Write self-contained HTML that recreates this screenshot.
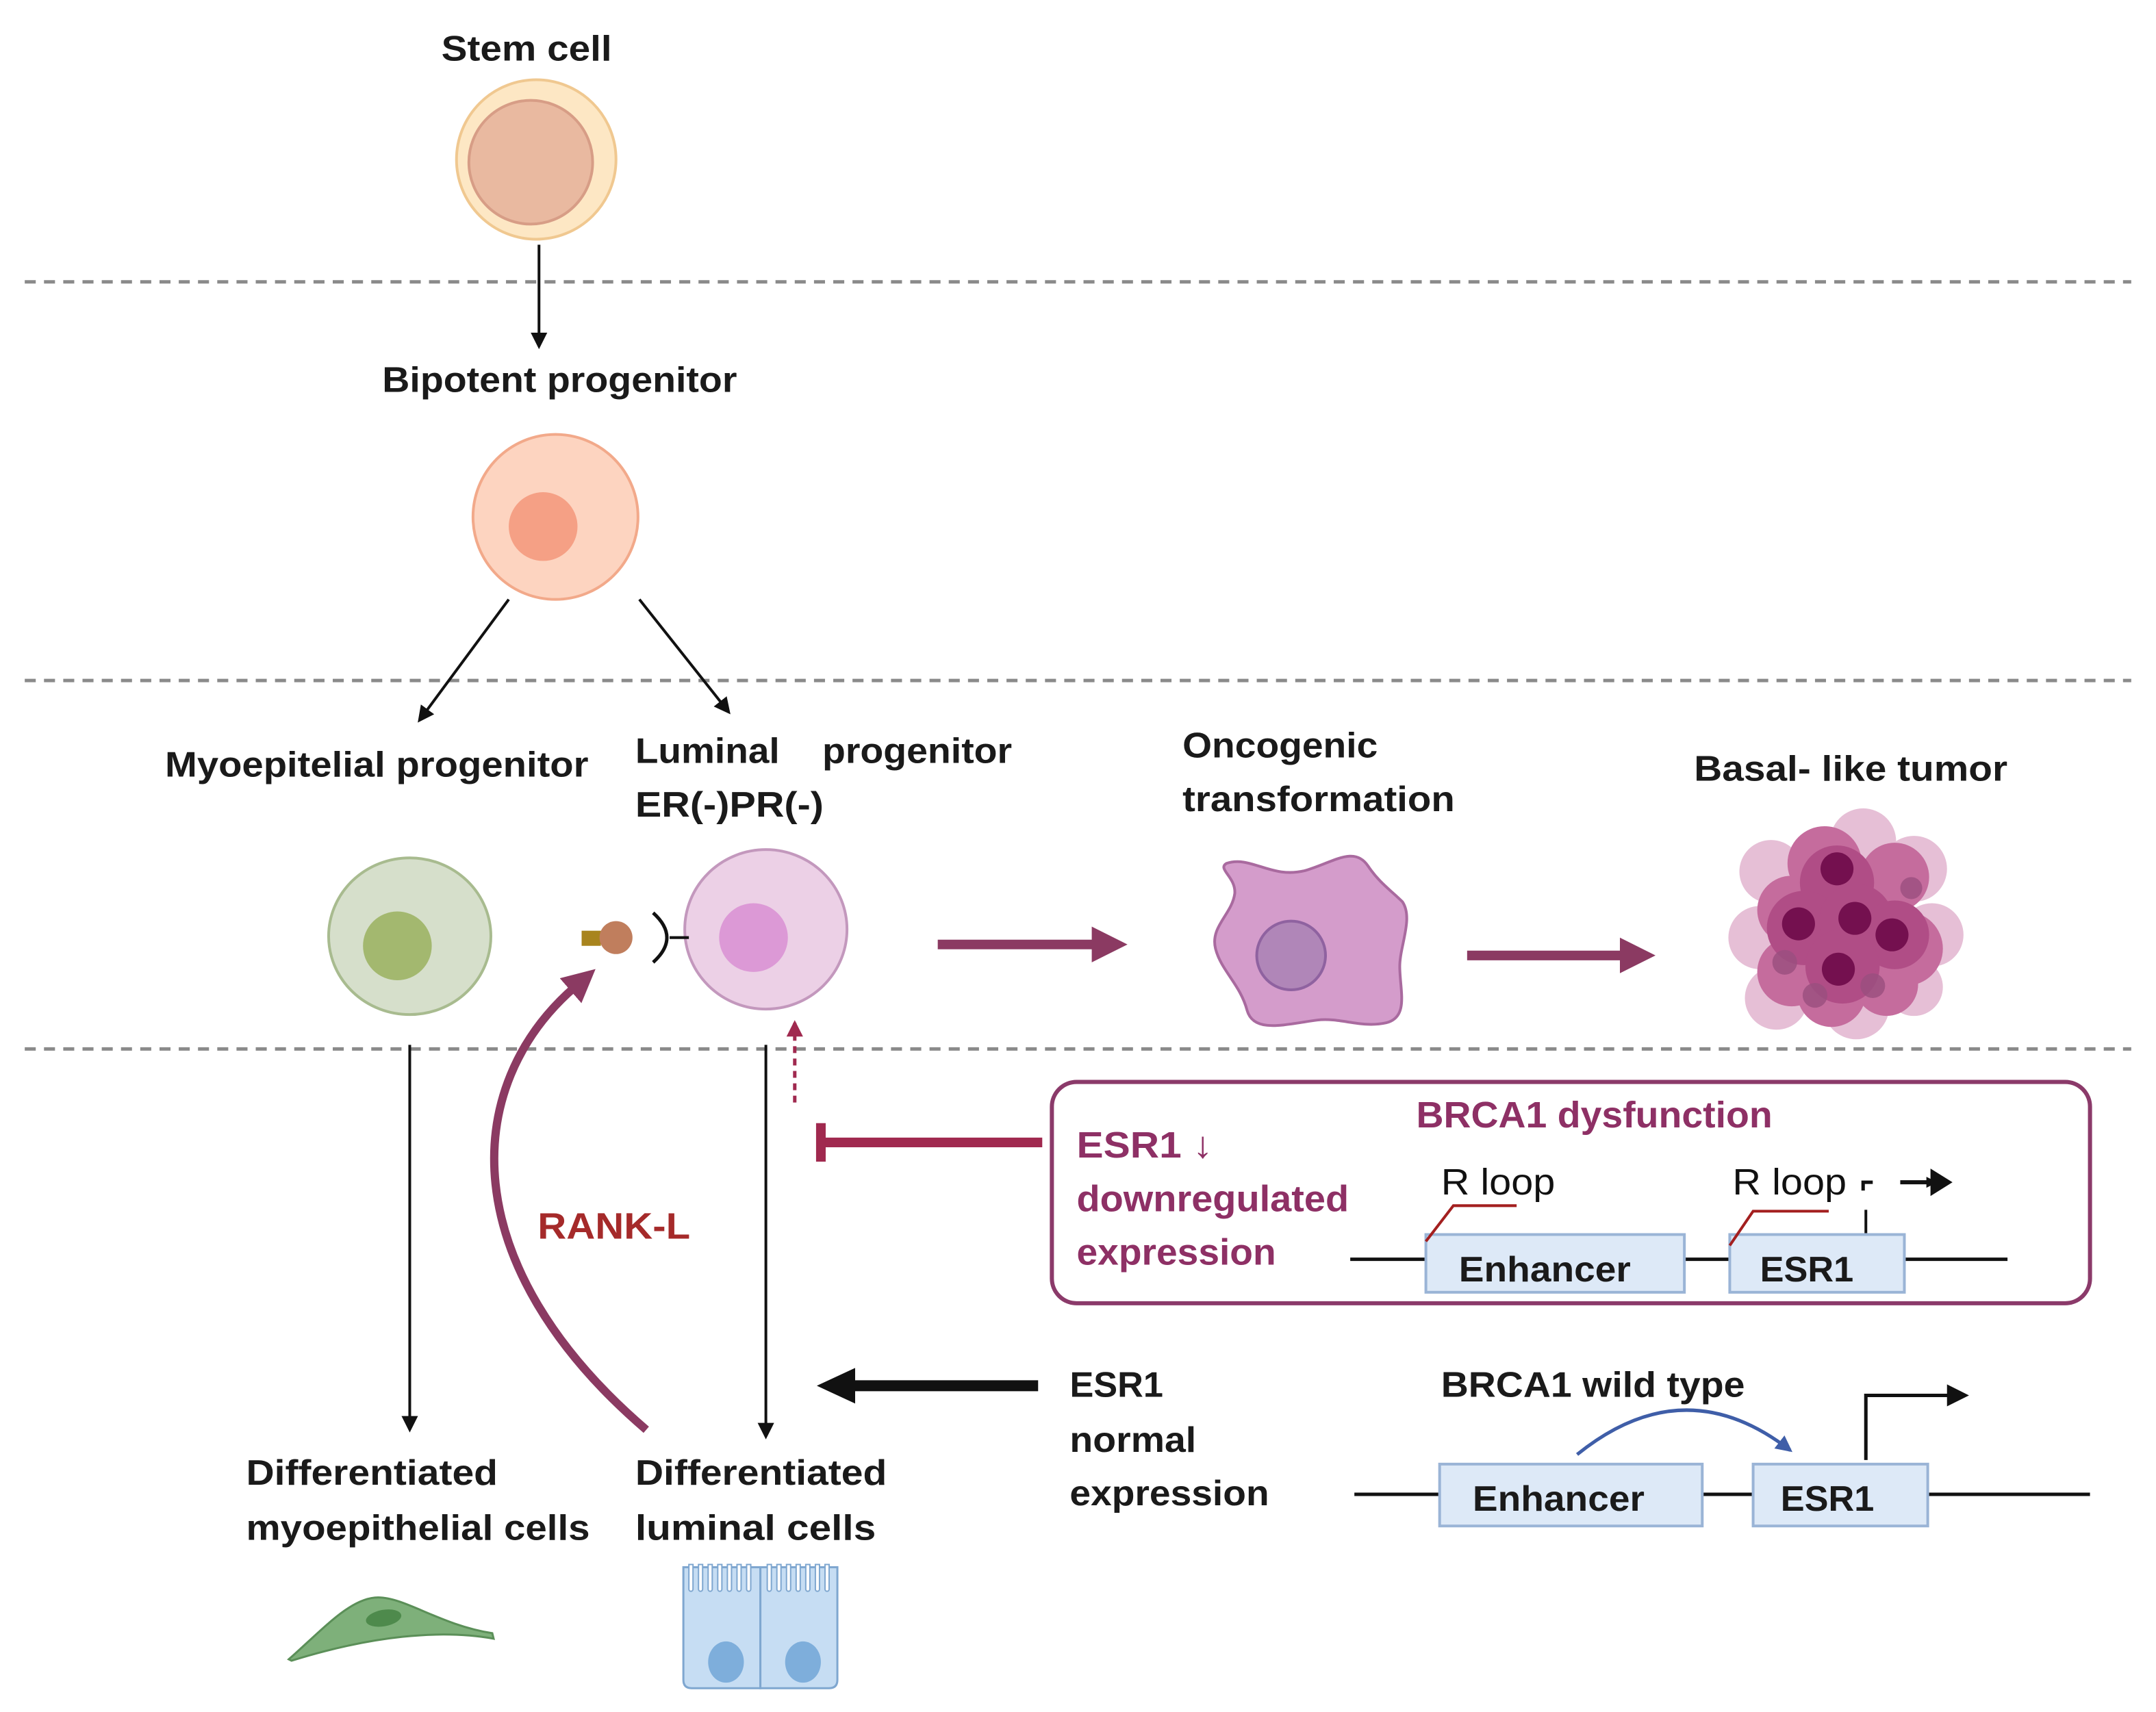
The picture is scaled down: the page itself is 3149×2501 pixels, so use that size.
<!DOCTYPE html>
<html><head><meta charset="utf-8"><style>
html,body{margin:0;padding:0;background:#fff}
svg{display:block}
text{font-family:"Liberation Sans",sans-serif}
.b{font-weight:bold;font-size:26px;fill:#1a1a1a}
.m{font-weight:bold;font-size:27px;fill:#8e3065}
</style></head><body>
<svg width="3149" height="2501" viewBox="0 0 1568 1245.3" xmlns="http://www.w3.org/2000/svg">
<defs>
<marker id="ab" markerWidth="8" markerHeight="8" refX="7" refY="4" orient="auto" markerUnits="userSpaceOnUse"><path d="M0,0 L8,4 L0,8 Z" fill="#111"/></marker>
<marker id="ab2" markerWidth="12" markerHeight="12" refX="10" refY="6" orient="auto" markerUnits="userSpaceOnUse"><path d="M0,0 L12,6 L0,12 Z" fill="#111"/></marker>
<marker id="am" markerWidth="26" markerHeight="26" refX="2" refY="13" orient="auto" markerUnits="userSpaceOnUse"><path d="M0,0 L26,13 L0,26 Z" fill="#8b3a62"/></marker>
<marker id="am2" markerWidth="24" markerHeight="24" refX="4" refY="12" orient="auto" markerUnits="userSpaceOnUse"><path d="M0,0 L24,12 L0,24 Z" fill="#8b3a62"/></marker>
<marker id="ak" markerWidth="28" markerHeight="26" refX="4" refY="13" orient="auto" markerUnits="userSpaceOnUse"><path d="M0,0 L28,13 L0,26 Z" fill="#111"/></marker>
<marker id="abl" markerWidth="12" markerHeight="12" refX="10" refY="6" orient="auto" markerUnits="userSpaceOnUse"><path d="M0,0 L12,6 L0,12 Z" fill="#3f5ea8"/></marker>
<marker id="amd" markerWidth="12" markerHeight="12" refX="10" refY="6" orient="auto" markerUnits="userSpaceOnUse"><path d="M0,0 L12,6 L0,12 Z" fill="#a0294f"/></marker>
</defs>

<g stroke="#8a8a8a" stroke-width="2.5" stroke-dasharray="8 6">
<line x1="18" y1="205" x2="1550" y2="205"/>
<line x1="18" y1="495" x2="1550" y2="495"/>
<line x1="18" y1="763" x2="1550" y2="763"/>
</g>

<text class="b" x="321" y="44" textLength="124" lengthAdjust="spacingAndGlyphs">Stem cell</text>
<circle cx="390" cy="116" r="58" fill="#fde7c4" stroke="#f0c890" stroke-width="2"/>
<circle cx="386" cy="118" r="45" fill="#e9b9a0" stroke="#d79d86" stroke-width="2"/>
<line x1="392" y1="178" x2="392" y2="252" stroke="#111" stroke-width="2" marker-end="url(#ab2)"/>

<text class="b" x="278" y="285" textLength="258" lengthAdjust="spacingAndGlyphs">Bipotent progenitor</text>
<circle cx="404" cy="376" r="60" fill="#fdd4c0" stroke="#f2a98a" stroke-width="2"/>
<circle cx="395" cy="383" r="25" fill="#f5a085"/>
<line x1="370" y1="436" x2="305" y2="524" stroke="#111" stroke-width="2" marker-end="url(#ab2)"/>
<line x1="465" y1="436" x2="530" y2="518" stroke="#111" stroke-width="2" marker-end="url(#ab2)"/>

<text class="b" x="120" y="565" textLength="308" lengthAdjust="spacingAndGlyphs">Myoepitelial progenitor</text>
<text class="b" x="462" y="555" textLength="105" lengthAdjust="spacingAndGlyphs">Luminal</text>
<text class="b" x="598" y="555" textLength="138" lengthAdjust="spacingAndGlyphs">progenitor</text>
<text class="b" x="462" y="594" textLength="137" lengthAdjust="spacingAndGlyphs">ER(-)PR(-)</text>
<text class="b" x="860" y="551" textLength="142" lengthAdjust="spacingAndGlyphs">Oncogenic</text>
<text class="b" x="860" y="590" textLength="198" lengthAdjust="spacingAndGlyphs">transformation</text>
<text class="b" x="1232" y="568" textLength="228" lengthAdjust="spacingAndGlyphs">Basal- like tumor</text>

<ellipse cx="298" cy="681" rx="59" ry="57" fill="#d6dfcb" stroke="#a8bb8f" stroke-width="2"/>
<circle cx="289" cy="688" r="25" fill="#a3b86f"/>

<ellipse cx="557" cy="676" rx="59" ry="58" fill="#ecd0e6" stroke="#c398bd" stroke-width="2"/>
<circle cx="548" cy="682" r="25" fill="#dc99d6"/>
<line x1="487" y1="682" x2="501" y2="682" stroke="#111" stroke-width="2"/>
<path d="M475,664 Q495,682 475,700" fill="none" stroke="#111" stroke-width="2.5"/>
<rect x="423" y="677" width="14" height="11" fill="#a8841e"/>
<circle cx="448" cy="682" r="12" fill="#c07e5d"/>

<line x1="682" y1="687" x2="796" y2="687" stroke="#8b3a62" stroke-width="7" marker-end="url(#am)"/>
<line x1="1067" y1="695" x2="1180" y2="695" stroke="#8b3a62" stroke-width="7" marker-end="url(#am)"/>

<path d="M892,628 C910,622 925,640 950,633 C970,627 985,615 995,630 C1003,642 1012,648 1020,656 C1028,668 1018,688 1018,703 C1018,720 1025,740 1008,744 C990,748 975,740 958,742 C935,745 912,752 907,735 C902,716 888,706 884,690 C880,674 896,665 898,650 C899,638 885,632 892,628 Z" fill="#d49ccb" stroke="#a96a9f" stroke-width="2"/>
<circle cx="939" cy="695" r="25" fill="#b086b8" stroke="#8f62a0" stroke-width="2"/>

<g>
<g fill="#e6bfd6">
<circle cx="1355" cy="612" r="24"/><circle cx="1392" cy="632" r="24"/><circle cx="1405" cy="680" r="23"/>
<circle cx="1288" cy="634" r="23"/><circle cx="1280" cy="682" r="23"/><circle cx="1292" cy="726" r="23"/>
<circle cx="1350" cy="732" r="24"/><circle cx="1392" cy="718" r="21"/>
</g>
<g fill="#c56c9d">
<circle cx="1327" cy="628" r="27"/><circle cx="1378" cy="638" r="25"/><circle cx="1303" cy="662" r="25"/>
<circle cx="1303" cy="707" r="25"/><circle cx="1386" cy="690" r="27"/><circle cx="1332" cy="722" r="25"/><circle cx="1372" cy="716" r="23"/>
</g>
<g fill="#b04d86">
<circle cx="1336" cy="642" r="27"/><circle cx="1312" cy="675" r="27"/><circle cx="1350" cy="670" r="27"/>
<circle cx="1378" cy="680" r="25"/><circle cx="1340" cy="703" r="27"/>
</g>
<g fill="#74104f">
<circle cx="1336" cy="632" r="12"/><circle cx="1308" cy="672" r="12"/><circle cx="1349" cy="668" r="12"/>
<circle cx="1376" cy="680" r="12"/><circle cx="1337" cy="705" r="12"/>
</g>
<g fill="#9a4f7f" opacity="0.8">
<circle cx="1298" cy="700" r="9"/><circle cx="1362" cy="717" r="9"/><circle cx="1320" cy="724" r="9"/><circle cx="1390" cy="646" r="8"/>
</g>
</g>

<line x1="298" y1="760" x2="298" y2="1040" stroke="#111" stroke-width="2" marker-end="url(#ab2)"/>
<line x1="557" y1="760" x2="557" y2="1045" stroke="#111" stroke-width="2" marker-end="url(#ab2)"/>
<line x1="578" y1="802" x2="578" y2="744" stroke="#a0294f" stroke-width="2.5" stroke-dasharray="5 4" marker-end="url(#amd)"/>

<line x1="597" y1="831" x2="758" y2="831" stroke="#a0294f" stroke-width="7"/>
<line x1="597" y1="817" x2="597" y2="845" stroke="#a0294f" stroke-width="7"/>

<rect x="765" y="787" width="755" height="161" rx="18" fill="none" stroke="#8b3a6a" stroke-width="3"/>
<text class="m" x="783" y="842" textLength="99" lengthAdjust="spacingAndGlyphs">ESR1 ↓</text>
<text class="m" x="783" y="881" textLength="198" lengthAdjust="spacingAndGlyphs">downregulated</text>
<text class="m" x="783" y="920" textLength="145" lengthAdjust="spacingAndGlyphs">expression</text>
<text class="m" x="1030" y="820" textLength="259" lengthAdjust="spacingAndGlyphs">BRCA1 dysfunction</text>
<text x="1048" y="869" font-size="27" fill="#111" textLength="83" lengthAdjust="spacingAndGlyphs">R loop</text>
<text x="1260" y="869" font-size="27" fill="#111" textLength="83" lengthAdjust="spacingAndGlyphs">R loop</text>
<line x1="982" y1="916" x2="1460" y2="916" stroke="#111" stroke-width="2.5"/>
<rect x="1037" y="898" width="188" height="42" fill="#dde9f7" stroke="#9ab4d6" stroke-width="2"/>
<rect x="1258" y="898" width="127" height="42" fill="#dde9f7" stroke="#9ab4d6" stroke-width="2"/>
<text class="b" x="1061" y="932" font-size="27" textLength="125" lengthAdjust="spacingAndGlyphs">Enhancer</text>
<text class="b" x="1280" y="932" font-size="27" textLength="68" lengthAdjust="spacingAndGlyphs">ESR1</text>
<path d="M1037,903 L1057,877 L1103,877" fill="none" stroke="#a31f1f" stroke-width="2"/>
<path d="M1258,906 L1275,881 L1330,881" fill="none" stroke="#a31f1f" stroke-width="2"/>
<line x1="1357" y1="880" x2="1357" y2="897" stroke="#111" stroke-width="2"/>
<path d="M1355,866 L1355,860 L1362,860" fill="none" stroke="#111" stroke-width="2.5"/>
<line x1="1382" y1="860" x2="1408" y2="860" stroke="#111" stroke-width="3" marker-end="url(#ab)"/>
<path d="M1404,850 L1420,860 L1404,870 Z" fill="#111"/>

<text x="391" y="901" font-size="27" font-weight="bold" fill="#a52a2a" textLength="111" lengthAdjust="spacingAndGlyphs">RANK-L</text>
<path d="M470,1040 C330,920 335,790 418,718" fill="none" stroke="#8b3a62" stroke-width="6" marker-end="url(#am2)"/>

<line x1="755" y1="1008" x2="618" y2="1008" stroke="#111" stroke-width="8" marker-end="url(#ak)"/>
<text class="b" x="778" y="1016" textLength="68" lengthAdjust="spacingAndGlyphs">ESR1</text>
<text class="b" x="778" y="1056" textLength="92" lengthAdjust="spacingAndGlyphs">normal</text>
<text class="b" x="778" y="1095" textLength="145" lengthAdjust="spacingAndGlyphs">expression</text>
<text class="b" x="1048" y="1016" textLength="221" lengthAdjust="spacingAndGlyphs">BRCA1 wild type</text>
<line x1="985" y1="1087" x2="1520" y2="1087" stroke="#111" stroke-width="2.5"/>
<rect x="1047" y="1065" width="191" height="45" fill="#dde9f7" stroke="#9ab4d6" stroke-width="2"/>
<rect x="1275" y="1065" width="127" height="45" fill="#dde9f7" stroke="#9ab4d6" stroke-width="2"/>
<text class="b" x="1071" y="1099" font-size="27" textLength="125" lengthAdjust="spacingAndGlyphs">Enhancer</text>
<text class="b" x="1295" y="1099" font-size="27" textLength="68" lengthAdjust="spacingAndGlyphs">ESR1</text>
<path d="M1147,1058 Q1225,995 1302,1055" fill="none" stroke="#3f5ea8" stroke-width="2.5" marker-end="url(#abl)"/>
<path d="M1357,1062 L1357,1015 L1420,1015" fill="none" stroke="#111" stroke-width="2.5"/>
<path d="M1416,1007 L1432,1015 L1416,1023 Z" fill="#111"/>

<text class="b" x="179" y="1080" textLength="183" lengthAdjust="spacingAndGlyphs">Differentiated</text>
<text class="b" x="179" y="1120" textLength="250" lengthAdjust="spacingAndGlyphs">myoepithelial cells</text>
<text class="b" x="462" y="1080" textLength="183" lengthAdjust="spacingAndGlyphs">Differentiated</text>
<text class="b" x="462" y="1120" textLength="175" lengthAdjust="spacingAndGlyphs">luminal  cells</text>

<path d="M210,1207 C235,1185 255,1162 275,1162 C295,1162 320,1182 358,1188 L359,1192 C320,1185 270,1190 212,1208 Z" fill="#7eb07a" stroke="#5b8f58" stroke-width="1.5"/>
<ellipse cx="279" cy="1177" rx="13" ry="6" fill="#4e8a4c" transform="rotate(-10 279 1177)"/>

<g fill="#c6ddf3" stroke="#7fa7d0" stroke-width="1.5">
<path d="M497,1140 L553,1140 L553,1228 L503,1228 Q497,1228 497,1222 Z"/>
<path d="M553,1140 L609,1140 L609,1222 Q609,1228 603,1228 L553,1228 Z"/>
</g>
<g fill="#fff" stroke="#7fa7d0" stroke-width="1">
<path d="M501,1138 v18 a1.5,1.5 0 0 0 3,0 v-18 Z M508,1138 v18 a1.5,1.5 0 0 0 3,0 v-18 Z M515,1138 v18 a1.5,1.5 0 0 0 3,0 v-18 Z M522,1138 v18 a1.5,1.5 0 0 0 3,0 v-18 Z M529,1138 v18 a1.5,1.5 0 0 0 3,0 v-18 Z M536,1138 v18 a1.5,1.5 0 0 0 3,0 v-18 Z M543,1138 v18 a1.5,1.5 0 0 0 3,0 v-18 Z M558,1138 v18 a1.5,1.5 0 0 0 3,0 v-18 Z M565,1138 v18 a1.5,1.5 0 0 0 3,0 v-18 Z M572,1138 v18 a1.5,1.5 0 0 0 3,0 v-18 Z M579,1138 v18 a1.5,1.5 0 0 0 3,0 v-18 Z M586,1138 v18 a1.5,1.5 0 0 0 3,0 v-18 Z M593,1138 v18 a1.5,1.5 0 0 0 3,0 v-18 Z M600,1138 v18 a1.5,1.5 0 0 0 3,0 v-18 Z"/>
</g>
<ellipse cx="528" cy="1209" rx="13" ry="15" fill="#7eaedb"/>
<ellipse cx="584" cy="1209" rx="13" ry="15" fill="#7eaedb"/>
</svg>
</body></html>
